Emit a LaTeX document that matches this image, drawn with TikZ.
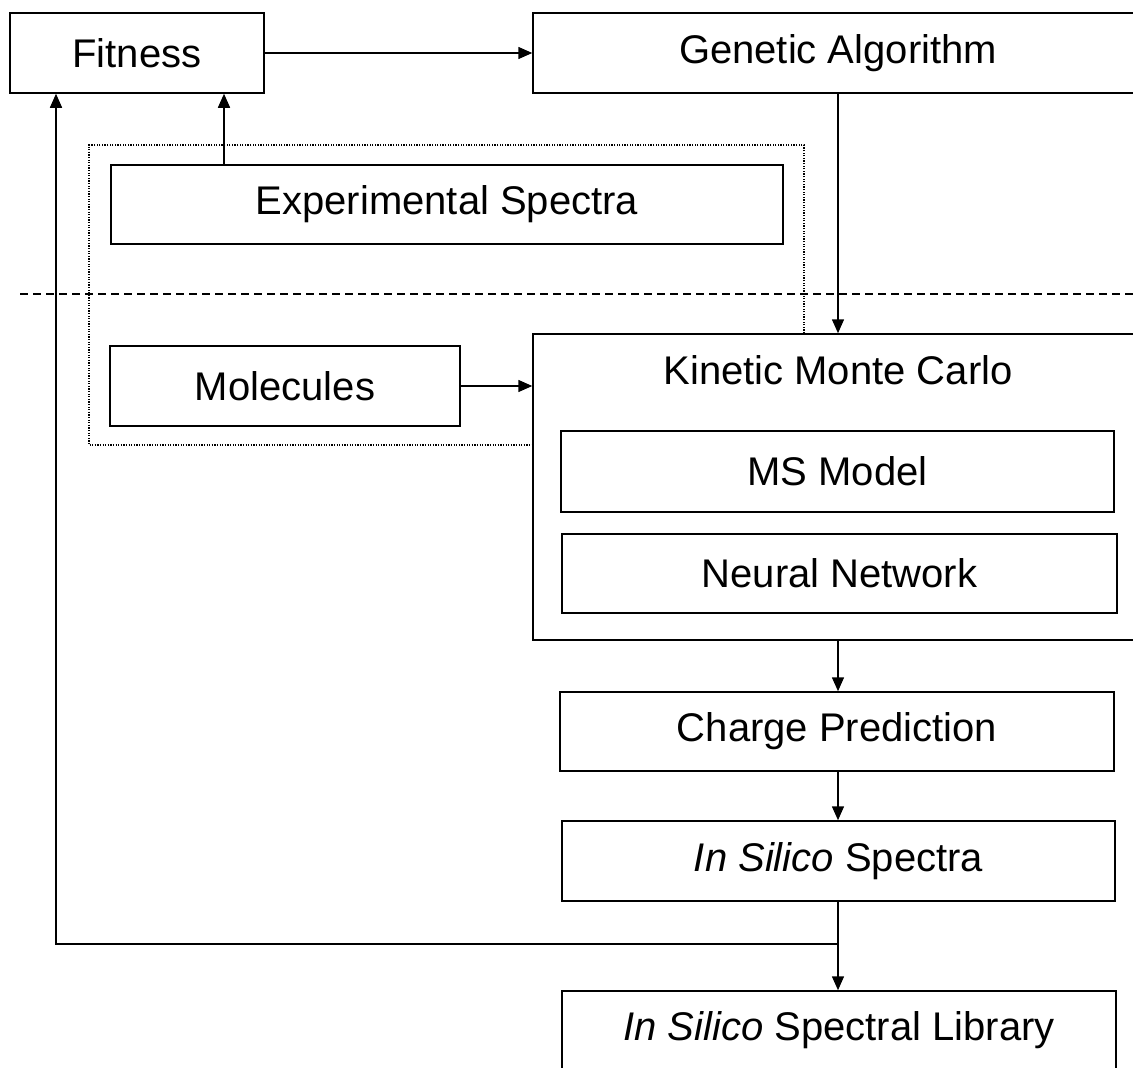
\documentclass[tikz,border=0pt]{standalone}
\usepackage{fontspec}
\setmainfont{Liberation Sans}
\usetikzlibrary{positioning,arrows.meta}
\tikzstyle{diagram} = [x = 1pt, y = -1pt, font=\fontsize{40}{48}\selectfont]
\tikzstyle{boxStyle} = [draw, line width=1.5pt, inner sep=0pt, align=center]
\tikzstyle{arrowStyle} = [line width=1.5pt, -{Triangle[length=14pt, width=12pt]}]
\tikzstyle{regionStyle} = [line width=1.3pt, dash pattern=on 1.3pt off 1.3pt]
\tikzstyle{borderLine} = [line width=1.3pt, dash pattern=on 8pt off 5pt]
\newcommand{\stageBox}[6]{\node [boxStyle, minimum width=#4, minimum height=#5] (#1) at (#2,#3) {#6};}
\begin{document}
\begin{tikzpicture}[diagram]
  \clip (0,0) rectangle (1133,1068);
  \stageBox{fitness}{137}{53}{254}{80}{Fitness}
  \stageBox{genetic}{838}{53}{610}{80}{Genetic Algorithm}
  \stageBox{expSpectra}{447}{204.5}{672}{79}{Experimental Spectra}
  \stageBox{molecules}{285}{386}{350}{80}{Molecules}
  \stageBox{kmc}{838}{487}{610}{306}{}
  \node (kmcTitle) at (838,370) {Kinetic Monte Carlo};
  \stageBox{msModel}{837.5}{471.5}{553}{81}{MS Model}
  \stageBox{neural}{839.5}{573.5}{555}{79}{Neural Network}
  \stageBox{charge}{837}{731.5}{554}{79}{Charge Prediction}
  \stageBox{silicoSpectra}{838.5}{861}{553}{80}{\textit{In Silico} Spectra}
  \stageBox{library}{839}{1030.5}{554}{79}{\textit{In Silico} Spectral Library}

  \coordinate (expOut) at (224,0);
  \coordinate (feedbackCorner) at (56,944);
  \coordinate (regionRight) at (804,0);
  \coordinate (regionLeft) at (89,0);

  \draw [borderLine] (20,294) -- (1133,294);
  \draw [regionStyle] (kmc.north -| regionRight) -- (regionRight |- 0,145) -- (regionLeft |- 0,145)
    -- (regionLeft |- 0,445) -- (kmc.west |- 0,445);

  \draw [arrowStyle] (fitness.east) -- (genetic.west);
  \draw [arrowStyle] (genetic.south) -- (kmc.north);
  \draw [arrowStyle] (expSpectra.north -| expOut) -- (fitness.south -| expOut);
  \draw [arrowStyle] (molecules.east) -- (molecules.east -| kmc.west);
  \draw [arrowStyle] (kmc.south) -- (kmc.south |- charge.north);
  \draw [arrowStyle] (charge.south -| kmc.south) -- (silicoSpectra.north -| kmc.south);
  \draw [arrowStyle] (silicoSpectra.south -| kmc.south) -- (library.north -| kmc.south);
  \draw [arrowStyle] (silicoSpectra.south -| kmc.south) |- (feedbackCorner) -- (fitness.south -| feedbackCorner);
\end{tikzpicture}
\end{document}
